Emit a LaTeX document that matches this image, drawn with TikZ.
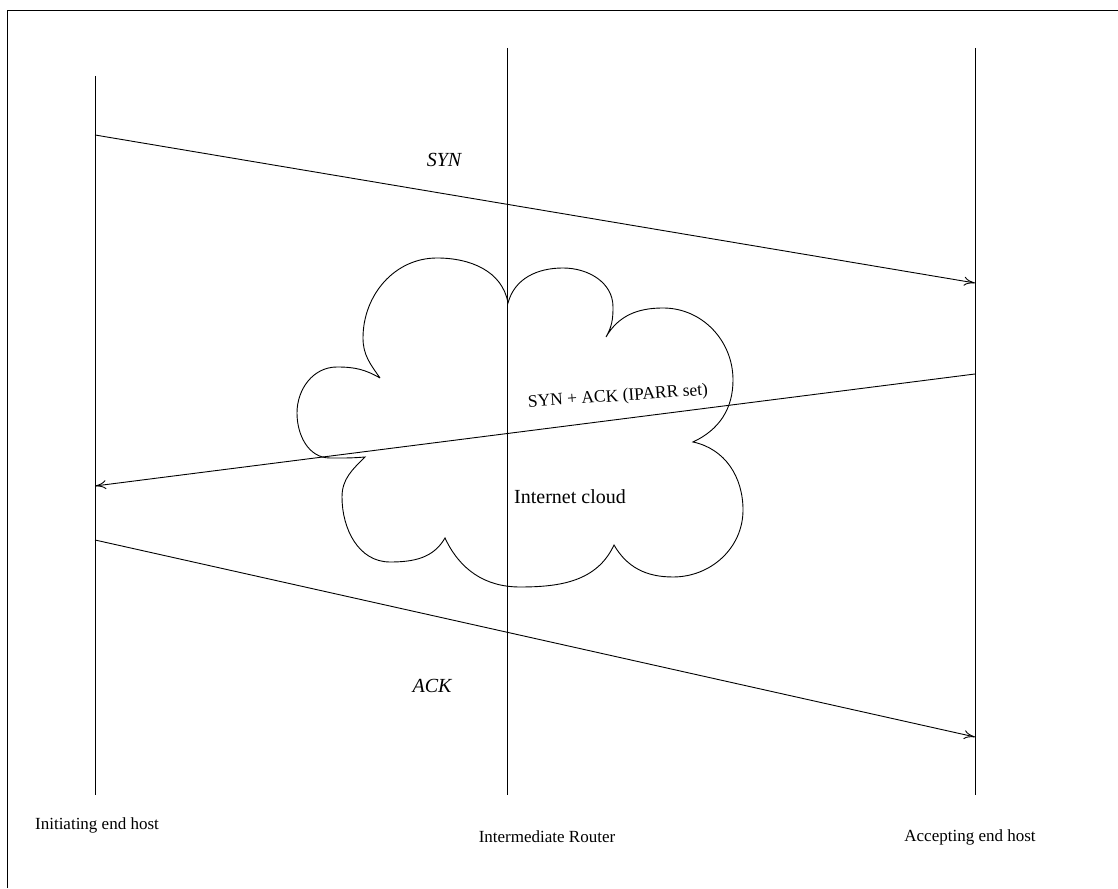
\documentclass[tikz,border=0pt]{standalone}
\usepackage{fontspec}
\setmainfont{Liberation Serif}
\usetikzlibrary{arrows.meta}
\begin{document}
\begin{tikzpicture}[x=1pt,y=1pt,
  ln/.style={line width=0.9pt, black},
  msg/.style={line width=0.9pt, -{To[length=11pt,width=9pt]}},
  lbl/.style={font=\fontsize{17}{20}\selectfont, inner sep=0pt},
  ilbl/.style={font=\fontsize{20}{23}\selectfont\itshape, inner sep=0pt}]
\useasboundingbox (0,0) rectangle (1118,888);
% frame (top and left)
\coordinate (f1) at (7,0);
\coordinate (f2) at (7,878);
\coordinate (f3) at (1118,878);
\draw[line width=0.9pt] (f1) -- (f2) -- (f3);
% lifelines
\coordinate (Lt) at (95,812);  \coordinate (Lb) at (95,93);
\coordinate (Mt) at (507,840); \coordinate (Mb) at (507,93);
\coordinate (Rt) at (975,840); \coordinate (Rb) at (975,93);
\draw[ln] (Lt) -- (Lb);
\draw[ln] (Mt) -- (Mb);
\draw[ln] (Rt) -- (Rb);
% cloud
\draw[ln]
  (380,510) to[out=125,in=-90] (363,550) to[out=90,in=180] (437,630)
            to[out=0,in=100] (508,585)
            to[out=75,in=180] (563,620) to[out=0,in=90] (613,581)
            to[out=-90,in=60] (606,551)
            to[out=60,in=180] (663,580) to[out=0,in=90] (733,508)
            to[out=-90,in=25] (693,446)
            to[out=-12,in=90] (743,378) to[out=-90,in=0] (673,311)
            to[out=180,in=-60] (614,343)
            to[out=-115,in=0] (520,301) to[out=180,in=-65] (445,350)
            to[out=-120,in=0] (390,326) to[out=180,in=-90] (342,391)
            to[out=90,in=-135] (365,431)
            to[out=185,in=0] (330,430) to[out=180,in=-90] (297,475)
            to[out=90,in=180] (337,521) to[out=0,in=150] (380,510);
% messages
\coordinate (a1) at (95,753);  \coordinate (a2) at (975,605);
\coordinate (b1) at (975,514); \coordinate (b2) at (95,402);
\coordinate (c1) at (95,348);  \coordinate (c2) at (975,151);
\draw[msg] (a1) -- (a2);
\draw[msg] (b1) -- (b2);
\draw[msg] (c1) -- (c2);
% labels
\node[ilbl] (syn) at (444,728) {SYN};
\node[lbl, font=\fontsize{17.5}{20}\selectfont, rotate=4] (synack) at (618,491) {SYN + ACK (IPARR set)};
\node[ilbl] (ack) at (432,202) {ACK};
\node[font=\fontsize{20}{23}\selectfont, inner sep=0pt] (cloud) at (570,391) {Internet cloud};
\node[lbl] (h1) at (97,63) {Initiating end host};
\node[lbl] (h2) at (547,51) {Intermediate Router};
\node[lbl] (h3) at (970,51) {Accepting end host};
\end{tikzpicture}
\end{document}
